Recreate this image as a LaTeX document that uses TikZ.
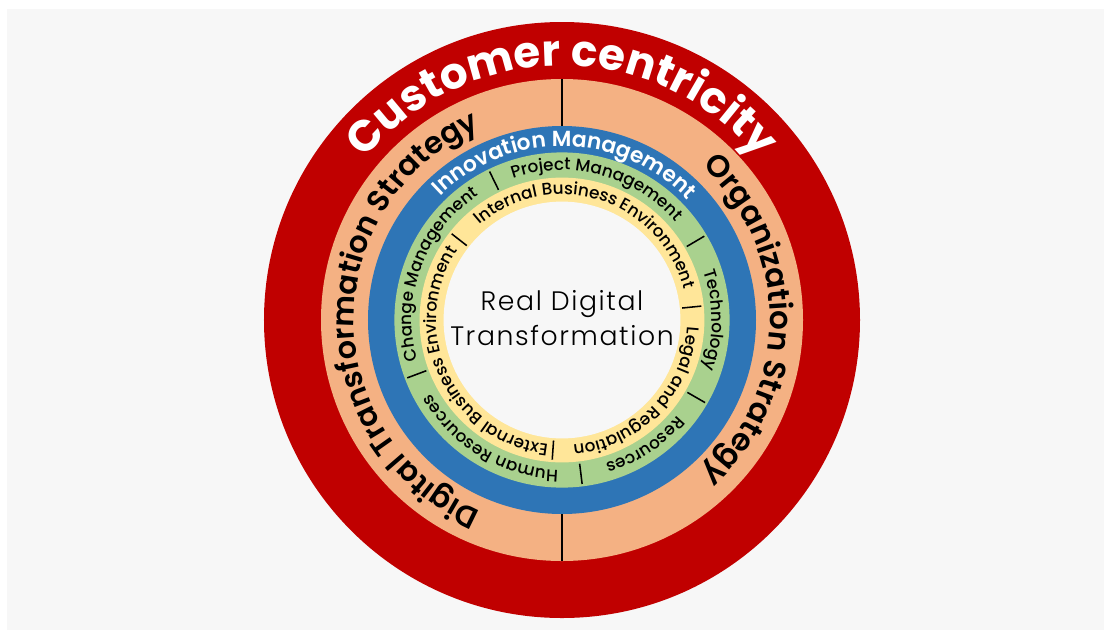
\documentclass[tikz,border=0pt]{standalone}
\usepackage{fontspec}
\setmainfont{Poppins}
\newfontfamily\medfont{Poppins Medium}
\newfontfamily\semifont{Poppins SemiBold}
\newfontfamily\lightfont{Poppins Light}[LetterSpace=6]
\usetikzlibrary{decorations.text}

\definecolor{ccred}{HTML}{C00000}
\definecolor{peach}{HTML}{F4B183}
\definecolor{innoblue}{HTML}{2E75B6}
\definecolor{ringgreen}{HTML}{A9D18E}
\definecolor{ringyellow}{HTML}{FFE699}
\definecolor{paper}{HTML}{F7F7F7}

% text bent along a clockwise arc: radius, from angle, to angle, format, text
\newcommand{\ringlabel}[5]{%
  \path[decorate, decoration={text along path, text align=center, text={|#4|#5}}]
    (#2:#1) arc[start angle=#2, end angle=#3, radius=#1];}
% short radial separator: angle, inner radius, outer radius
\newcommand{\ringcut}[3]{\draw[cut] (#1:#2) -- (#1:#3);}

\begin{document}
\begin{tikzpicture}[cut/.style={line width=1.1pt, black}]
    \useasboundingbox (-14.05,-7.75) rectangle (13.55,8);
    \fill[white] (-14.05,-7.75) rectangle (13.55,8);
    \fill[paper] (-13.875,-7.75) rectangle (13.55,7.775);

    % Rings, outside in
    \fill[ccred] (0,0) circle (7.45);
    \fill[peach] (0,0) circle (6.025);
    \fill[innoblue] (0,0) circle (4.85);
    \fill[ringgreen] (0,0) circle (4.19);
    \fill[ringyellow] (0,0) circle (3.56);
    \fill[paper] (0,0) circle (2.96);

    % Separators
    \draw[line width=1.4pt] (90:4.85) -- (90:6.025);
    \draw[line width=1.4pt] (270:4.85) -- (270:6.025);
    \foreach \a in {30.5,116,200.5,277,330} {\ringcut{\a}{3.62}{4.13}}
    \foreach \a in {5.7,142,266} {\ringcut{\a}{3.02}{3.50}}

    % Labels
    \ringlabel{6.36cm}{180}{0}{\bfseries\color{white}\fontsize{31}{31}\selectfont}{Customer centricity}
    \ringlabel{5.2cm}{275}{85}{\semifont\fontsize{21.5}{21.5}\selectfont}{Digital Transformation Strategy}
    \ringlabel{5.2cm}{90}{-90}{\semifont\fontsize{22}{22}\selectfont}{Organization Strategy}
    \ringlabel{4.34cm}{179}{-1}{\semifont\color{white}\fontsize{15.5}{15.5}\selectfont}{Innovation Management}

    \ringlabel{3.75cm}{117}{33}{\medfont\fontsize{12}{12}\selectfont}{Project Management}
    \ringlabel{3.75cm}{200}{119}{\medfont\fontsize{12}{12}\selectfont}{Change Management}
    \ringlabel{3.75cm}{30}{-30}{\medfont\fontsize{12}{12}\selectfont}{Technology}
    \ringlabel{3.75cm}{330}{277}{\medfont\fontsize{12}{12}\selectfont}{Resources}
    \ringlabel{3.75cm}{277}{201}{\medfont\fontsize{12}{12}\selectfont}{Human Resources}

    \ringlabel{3.14cm}{142}{3}{\medfont\fontsize{12}{12}\selectfont}{Internal Business Environment}
    \ringlabel{3.14cm}{265}{145}{\medfont\fontsize{12}{12}\selectfont}{External Business Environment}
    \ringlabel{3.14cm}{364}{268}{\medfont\fontsize{12}{12}\selectfont}{Legal and Regulation}

    \node[align=center, font=\lightfont\fontsize{19}{25}\selectfont] (core) at (0,0.05) {Real Digital\\Transformation};
\end{tikzpicture}
\end{document}
